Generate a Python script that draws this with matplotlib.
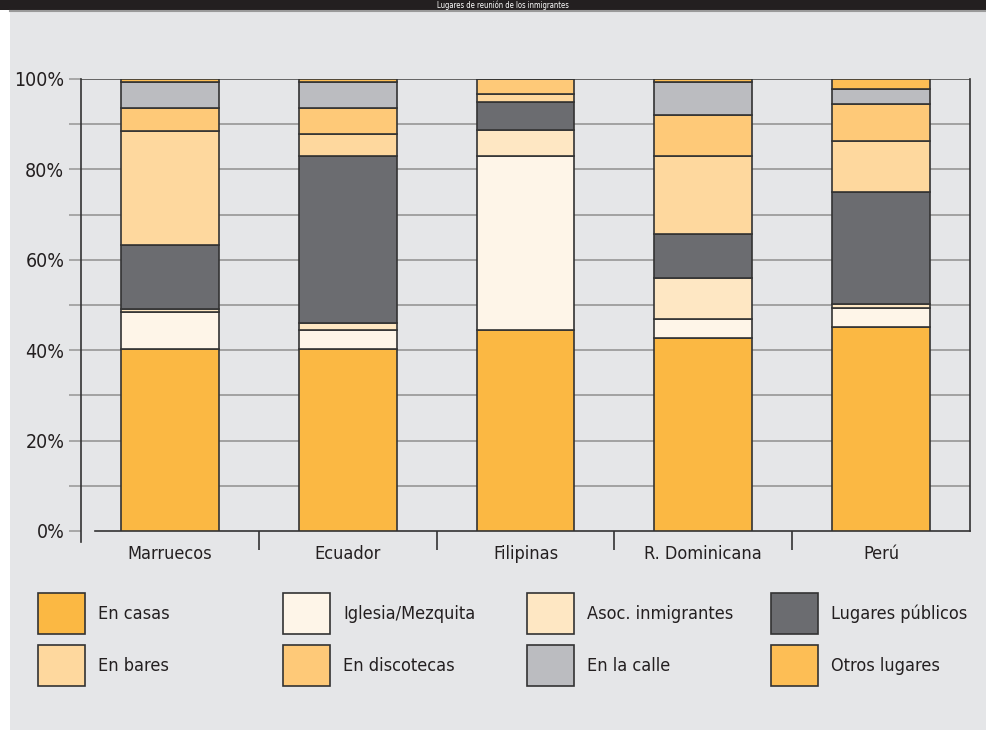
import matplotlib
matplotlib.use('Agg')
import matplotlib.pyplot as plt
from matplotlib.patches import Rectangle
from matplotlib.lines import Line2D
from matplotlib import font_manager
import numpy as np

# narrow face if one is installed, DejaVu otherwise
plt.rcParams['font.family'] = ['DejaVu Sans']
plt.rcParams['font.stretch'] = 'condensed'
_fp = font_manager.FontProperties(family='DejaVu Sans', stretch='condensed')
narrow = 'condensed' in font_manager.findfont(_fp).lower()
txt_size = 13 if narrow else 11.5

# data (percent, stacked bottom to top)
paises = ['Marruecos', 'Ecuador', 'Filipinas', 'R. Dominicana', 'Perú']
en_casas = [40.3, 40.3, 44.4, 42.7, 45.1]
iglesia = [8.1, 4.1, 38.6, 4.1, 4.2]
asoc = [0.8, 1.6, 5.8, 9.1, 1.0]
lugares_publicos = [14.0, 36.9, 6.1, 9.9, 24.6]
en_bares = [25.4, 5.0, 1.7, 17.2, 11.4]
en_discotecas = [4.9, 5.7, 3.4, 9.0, 8.1]
en_la_calle = [5.9, 5.8, 0.8, 7.4, 3.3]
otros = [0.6, 0.6, 0.0, 0.6, 2.3]

series = [en_casas, iglesia, asoc, lugares_publicos,
          en_bares, en_discotecas, en_la_calle, otros]
nombres = ['En casas', 'Iglesia/Mezquita', 'Asoc. inmigrantes', 'Lugares públicos',
           'En bares', 'En discotecas', 'En la calle', 'Otros lugares']
colores = ['#FBB843', '#FEF5E8', '#FEE7C3', '#6B6C70',
           '#FED89E', '#FEC978', '#BBBCC0', '#FDBE55']

W, H = 987, 730
fig = plt.figure(figsize=(W / 100, H / 100), dpi=100)
fig.patch.set_facecolor('white')

# background panel and header bar
fig.patches.append(Rectangle((10 / W, 0), 1, 1 - 10 / H, transform=fig.transFigure,
                             facecolor='#E5E6E8', edgecolor='none', zorder=-10))
fig.patches.append(Rectangle((0, 1 - 10 / H), 1, 10 / H, transform=fig.transFigure,
                             facecolor='#231F20', edgecolor='none', zorder=-9))
fig.add_artist(Line2D([10 / W, 1], [1 - 11 / H, 1 - 11 / H], transform=fig.transFigure,
                      color='#9A9A9A', lw=1.5))
fig.text(0.51, 1 - 5 / H, 'Lugares de reunión de los inmigrantes', color='white',
         fontsize=5.5, ha='center', va='center')

ax = fig.add_axes([81 / W, 1 - 531 / H, (970 - 81) / W, (531 - 79) / H])
ax.set_facecolor('none')

x = np.arange(len(paises))
bottom = np.zeros(len(paises))
for vals, col in zip(series, colores):
    ax.bar(x, vals, width=0.55, bottom=bottom, color=col,
           edgecolor='#333333', linewidth=1.2, zorder=3)
    bottom += np.array(vals)

ax.set_xlim(-0.5, 4.5)
ax.set_ylim(0, 100)

# gridlines every 10%
for g in range(10, 101, 10):
    ax.axhline(g, color='#5A5A5A' if g == 100 else '#9C9C9C', lw=1.3, zorder=1)

ax.set_yticks(range(0, 101, 20))
ax.set_yticklabels(['{}%'.format(v) for v in range(0, 101, 20)])
ax.set_yticks(range(10, 100, 20), minor=True)
ax.tick_params(axis='y', which='both', length=9, width=1.2, color='#9C9C9C',
               pad=3, labelsize=txt_size + 1, labelcolor='#231F20')

ax.set_xticks(x)
ax.set_xticklabels(paises)
ax.set_xticks([0.5, 1.5, 2.5, 3.5], minor=True)
ax.tick_params(axis='x', which='major', length=0, pad=10, labelsize=txt_size,
               labelcolor='#231F20')
ax.tick_params(axis='x', which='minor', length=14, width=1.2, color='#333333')

for s in ['left', 'right', 'bottom']:
    ax.spines[s].set_color('#333333')
    ax.spines[s].set_linewidth(1.2)
ax.spines['top'].set_visible(False)
ax.spines['left'].set_bounds(-2.5, 100)
ax.spines['bottom'].set_bounds(-0.5 + 14 / 177.8, 4.5)

# legend
col_x = [38, 283, 527, 771]
row_y = [593, 645]
for i, (nom, col) in enumerate(zip(nombres, colores)):
    cx = col_x[i % 4]
    ry = row_y[i // 4]
    fig.patches.append(Rectangle((cx / W, 1 - (ry + 41) / H), 47 / W, 41 / H,
                                 transform=fig.transFigure, facecolor=col,
                                 edgecolor='#333333', linewidth=1.2))
    fig.text((cx + 60) / W, 1 - (ry + 21) / H, nom, fontsize=txt_size,
             color='#231F20', ha='left', va='center')

fig.savefig('out.png', dpi=100, facecolor=fig.get_facecolor())
